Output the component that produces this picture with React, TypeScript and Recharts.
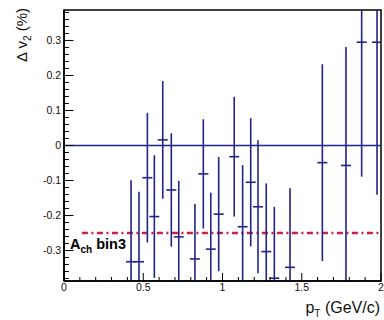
import React from 'react';
import { ComposedChart, Scatter, XAxis, YAxis, ErrorBar, ReferenceLine, ReferenceArea } from 'recharts';

// pT bin centres (GeV/c)
const ptValues = [0.423, 0.473, 0.526, 0.570, 0.623, 0.677, 0.724, 0.826, 0.879, 0.926, 0.976, 1.074, 1.127, 1.178, 1.224, 1.276, 1.327, 1.426, 1.630, 1.779, 1.878, 1.975];
// Delta v2 (%)
const dv2Values = [-0.332, -0.332, -0.092, -0.203, 0.016, -0.127, -0.261, -0.324, -0.081, -0.296, -0.196, -0.032, -0.232, -0.105, -0.175, -0.303, -0.379, -0.348, -0.049, -0.057, 0.295, 0.295];
// statistical errors
const dv2Errors = [0.233, 0.200, 0.185, 0.175, 0.168, 0.162, 0.160, 0.157, 0.156, 0.161, 0.163, 0.171, 0.176, 0.183, 0.190, 0.195, 0.204, 0.226, 0.281, 0.338, 0.384, 0.436];

// reference level (dash-dot red line)
const refLevel = -0.25;
const refStart = 0.113;
const refEnd = 2.0;

const xDomain = [0, 2];
const yDomain = [-0.387, 0.387];

const xTicks = [0, 0.1, 0.2, 0.3, 0.4, 0.5, 0.6, 0.7, 0.8, 0.9, 1, 1.1, 1.2, 1.3, 1.4, 1.5, 1.6, 1.7, 1.8, 1.9, 2];
const xTickLabels: Record<string, string> = { '0': '0', '0.5': '0.5', '1': '1', '1.5': '1.5', '2': '2' };

const yTicks = [-0.38, -0.36, -0.34, -0.32, -0.3, -0.28, -0.26, -0.24, -0.22, -0.2, -0.18, -0.16, -0.14, -0.12, -0.1, -0.08, -0.06, -0.04, -0.02, 0, 0.02, 0.04, 0.06, 0.08, 0.1, 0.12, 0.14, 0.16, 0.18, 0.2, 0.22, 0.24, 0.26, 0.28, 0.3, 0.32, 0.34, 0.36, 0.38];
const yTickLabels: Record<string, string> = { '-0.3': '-0.3', '-0.2': '-0.2', '-0.1': '-0.1', '0': '0', '0.1': '0.1', '0.2': '0.2', '0.3': '0.3' };

// error bars are cut at the frame, as in the original plot
const data = ptValues.map((x, i) => {
  const y = dv2Values[i];
  const e = dv2Errors[i];
  return { x, y, err: [Math.min(e, y - yDomain[0]), Math.min(e, yDomain[1] - y)] };
});

const NAVY = '#22228c';
const RED = '#cc2040';
const FONT = '"Liberation Sans", Arial, Helvetica, sans-serif';

const XTick = (props: any) => {
  const { x, y, payload } = props;
  const key = String(payload.value);
  const label = xTickLabels[key];
  const major = label !== undefined;
  return (
    <g>
      <line x1={x} x2={x} y1={y} y2={y - (major ? 8 : 4)} stroke="#000" strokeWidth={1} />
      {major && (
        <text x={x} y={y + 9.5} textAnchor="middle" fontSize={10.5} fontFamily={FONT} fill="#111">
          {label}
        </text>
      )}
    </g>
  );
};

const YTick = (props: any) => {
  const { x, y, payload } = props;
  const key = String(payload.value);
  const label = yTickLabels[key];
  const major = label !== undefined;
  return (
    <g>
      <line x1={x} x2={x + (major ? 9.5 : 5)} y1={y} y2={y} stroke="#000" strokeWidth={1} />
      {major && (
        <text x={x - 3} y={y} dy="0.35em" textAnchor="end" fontSize={10.5} fontFamily={FONT} fill="#111">
          {label}
        </text>
      )}
    </g>
  );
};

const Marker = (props: any) => {
  const { cx, cy } = props;
  if (cx == null || cy == null) return <g />;
  return <line x1={cx - 5} x2={cx + 5} y1={cy} y2={cy} stroke={NAVY} strokeWidth={1.6} />;
};

export default function App() {
  return (
    <div style={{ position: 'absolute', left: 0, top: 0, width: 384, height: 320, background: '#fff' }}>
      <ComposedChart
        width={384}
        height={320}
        data={data}
        margin={{ top: 10, right: 3, left: 0, bottom: 0 }}
      >
        <ReferenceArea x1={0} x2={2} y1={yDomain[0]} y2={yDomain[1]} fill="none" stroke="#000" strokeWidth={1.5} />
        <XAxis
          type="number"
          dataKey="x"
          domain={xDomain}
          ticks={xTicks}
          interval={0}
          allowDataOverflow
          tickSize={0}
          tickMargin={0}
          tickLine={false}
          axisLine={{ stroke: '#000', strokeWidth: 1.5 }}
          tick={<XTick />}
          height={39}
        />
        <YAxis
          type="number"
          dataKey="y"
          domain={yDomain}
          ticks={yTicks}
          interval={0}
          allowDataOverflow
          tickSize={0}
          tickMargin={0}
          tickLine={false}
          axisLine={{ stroke: '#000', strokeWidth: 1.5 }}
          tick={<YTick />}
          width={64}
        />
        <ReferenceLine y={0} stroke={NAVY} strokeWidth={1.5} />
        <ReferenceLine
          segment={[{ x: refStart, y: refLevel }, { x: refEnd, y: refLevel }]}
          stroke={RED}
          strokeWidth={2.6}
          strokeDasharray="6 3.5 2 3.5"
        />
        <Scatter data={data} dataKey="y" isAnimationActive={false} shape={<Marker />}>
          <ErrorBar dataKey="err" direction="y" width={0} stroke={NAVY} strokeWidth={1.6} isAnimationActive={false} />
        </Scatter>
      </ComposedChart>
      <svg width={384} height={320} style={{ position: 'absolute', left: 0, top: 0, pointerEvents: 'none' }}>
        <text x={70} y={249} fontSize={14.5} fontWeight="bold" fontFamily={FONT} fill="#000">
          A<tspan dy={4} fontSize={10}>ch</tspan>
          <tspan dy={-4}> bin3</tspan>
        </text>
        <text x={380} y={313} textAnchor="end" fontSize={16} fontFamily={FONT} fill="#111">
          p<tspan dy={4} fontSize={10}>T</tspan>
          <tspan dy={-4}> (GeV/c)</tspan>
        </text>
        <text transform="rotate(-90)" x={-8} y={27} textAnchor="end" fontSize={15} fontFamily={FONT} fill="#111">
          Δ v<tspan dy={4} fontSize={10}>2</tspan>
          <tspan dy={-4}> (%)</tspan>
        </text>
      </svg>
    </div>
  );
}
